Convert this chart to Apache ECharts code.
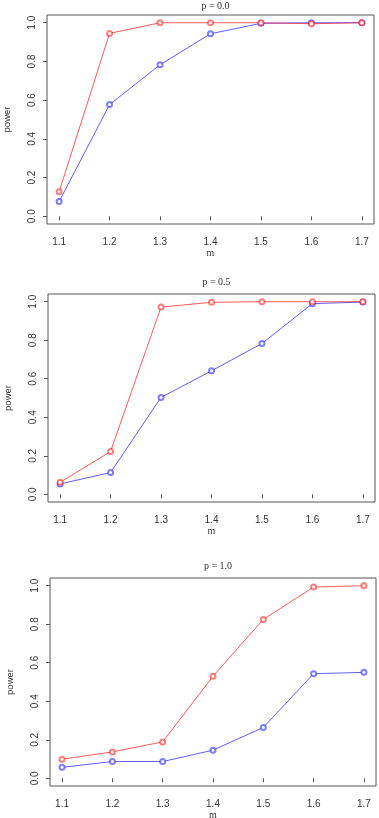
<!DOCTYPE html>
<html>
<head>
<meta charset="utf-8">
<script src="https://cdn.jsdelivr.net/npm/echarts@6/dist/echarts.min.js"></script>
<style>
html,body{margin:0;padding:0;background:#fff;}
#chart{width:379px;height:818px;}
</style>
</head>
<body>
<div id="chart"></div>
<script>
var mValues = [1.1, 1.2, 1.3, 1.4, 1.5, 1.6, 1.7];
var yTicks = [0, 0.2, 0.4, 0.6, 0.8, 1.0];
var panelTitles = ['p = 0.0', 'p = 0.5', 'p = 1.0'];

var red_p00 = [0.127, 0.945, 1.0, 1.0, 1.0, 0.995, 1.0];
var blue_p00 = [0.076, 0.577, 0.783, 0.943, 0.997, 1.0, 1.0];
var red_p05 = [0.062, 0.222, 0.972, 0.997, 1.0, 1.0, 1.0];
var blue_p05 = [0.054, 0.113, 0.503, 0.641, 0.783, 0.99, 0.998];
var red_p10 = [0.099, 0.137, 0.189, 0.530, 0.825, 0.993, 1.0];
var blue_p10 = [0.057, 0.087, 0.087, 0.146, 0.264, 0.543, 0.550];

var redSeries = [red_p00, red_p05, red_p10];
var blueSeries = [blue_p00, blue_p05, blue_p10];

var grids = [
  {left: 47, right: 5, top: 15, height: 209},
  {left: 48, right: 4, top: 294, height: 208},
  {left: 50, right: 3, top: 578, height: 208}
];
var titleTops = [-4, 272, 556];

function pairs(vals){ return mValues.map(function(m,i){ return [m, vals[i]]; }); }

var option = {
  animation: false,
  backgroundColor: '#fff',
  title: [], grid: [], xAxis: [], yAxis: [], series: []
};

var blueCol = 'rgba(40,40,255,0.75)';
var redCol = 'rgba(255,20,20,0.7)';
var blueMk = 'rgba(40,40,255,0.6)';
var redMk = 'rgba(255,20,20,0.55)';

grids.forEach(function(g, i){
  option.grid.push({left: g.left, right: g.right, top: g.top, height: g.height,
    show: true, borderColor: '#555', borderWidth: 1, backgroundColor: 'transparent',
    containLabel: false, outerBoundsMode: 'none'});
  var cx = g.left + (379 - g.left - g.right) / 2;
  option.title.push({text: panelTitles[i], left: cx, top: titleTops[i], textAlign: 'center',
    textStyle: {fontFamily: 'Liberation Serif', fontSize: 10, fontWeight: 'normal', color: '#333'}});
  option.xAxis.push({type: 'value', gridIndex: i, min: 1.076, max: 1.724,
    name: 'm', nameLocation: 'middle', nameGap: 24,
    nameTextStyle: {fontFamily: 'Liberation Serif', fontSize: 10, color: '#333'},
    axisLine: {show: false},
    axisTick: {show: true, inside: false, length: 4, customValues: mValues, lineStyle: {color: '#555'}},
    axisLabel: {customValues: mValues, margin: 13, fontFamily: 'Liberation Sans', fontSize: 10, color: '#333',
      formatter: function(v){ return v.toFixed(1); }},
    splitLine: {show: false}
  });
  option.yAxis.push({type: 'value', gridIndex: i, min: -0.04, max: 1.04,
    name: 'power', nameLocation: 'middle', nameGap: 35,
    nameTextStyle: {fontFamily: 'Liberation Sans', fontSize: 9.5, color: '#333'},
    axisLine: {show: false},
    axisTick: {show: true, inside: false, length: 4, customValues: yTicks, lineStyle: {color: '#555'}},
    axisLabel: {customValues: yTicks, rotate: 90, margin: 10, fontFamily: 'Liberation Sans', fontSize: 10, color: '#333',
      formatter: function(v){ return v.toFixed(1); }},
    splitLine: {show: false}
  });
  option.series.push({type: 'line', xAxisIndex: i, yAxisIndex: i, data: pairs(blueSeries[i]),
    symbol: 'emptyCircle', symbolSize: 5, showSymbol: true, color: blueMk,
    lineStyle: {color: blueCol, width: 1},
    itemStyle: {color: blueMk, borderColor: blueMk, borderWidth: 0.9}, z: 2});
  option.series.push({type: 'line', xAxisIndex: i, yAxisIndex: i, data: pairs(redSeries[i]),
    symbol: 'emptyCircle', symbolSize: 5, showSymbol: true, color: redMk,
    lineStyle: {color: redCol, width: 1},
    itemStyle: {color: redMk, borderColor: redMk, borderWidth: 0.9}, z: 3});
});

var chart = echarts.init(document.getElementById('chart'), null, {renderer: 'canvas'});
chart.setOption(option);
</script>
</body>
</html>
